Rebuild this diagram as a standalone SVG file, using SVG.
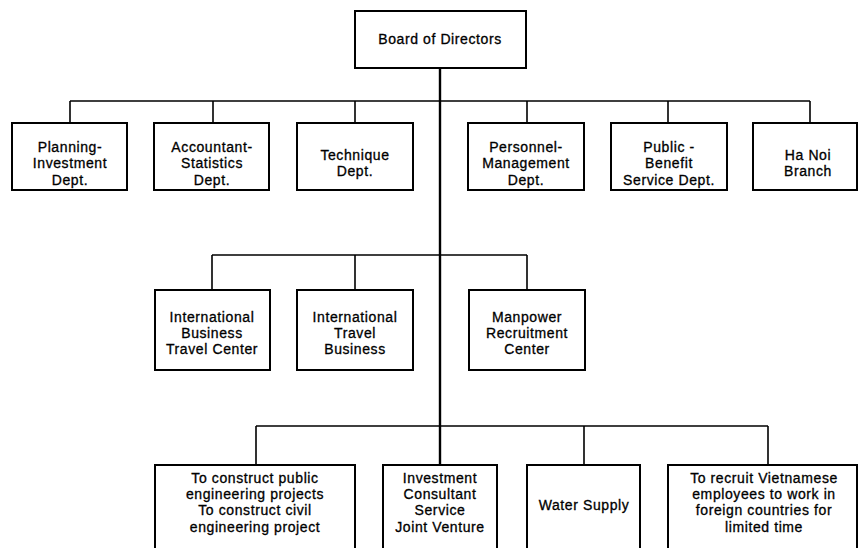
<svg xmlns="http://www.w3.org/2000/svg" width="859" height="548" viewBox="0 0 859 548">
<style>
.box{fill:#fff;stroke:#000;stroke-width:2}
.c{fill:none;stroke:#000;stroke-width:1.6}
.stem{fill:none;stroke:#000;stroke-width:2.4}
text{font-family:"Liberation Sans",Arial,sans-serif;font-size:14px;fill:#000;stroke:#000;stroke-width:0.3;text-anchor:middle;letter-spacing:0.6px}
</style>
<rect width="859" height="548" fill="#fff"/>
<g id="connectors">
<path class="stem" d="M440 68V465"/>
<path class="c" d="M70 101H810M70 101V123M213 101V123M355 101V123M527 101V123M668 101V123M810 101V123"/>
<path class="c" d="M212 255H527M212 255V290M355 255V290M527 255V290"/>
<path class="c" d="M256 426H768M256 426V465M584 426V465M768 426V465"/>
</g>
<g id="board"><rect class="box" x="355" y="11" width="171" height="57"/><text x="440" y="44">Board of Directors</text></g>
<g id="planning"><rect class="box" x="12" y="123" width="115" height="67"/><text x="70" y="152">Planning-</text><text x="70" y="168">Investment</text><text x="70" y="185">Dept.</text></g>
<g id="accountant"><rect class="box" x="154" y="123" width="115" height="67"/><text x="212" y="152">Accountant-</text><text x="212" y="168">Statistics</text><text x="212" y="185">Dept.</text></g>
<g id="technique"><rect class="box" x="297" y="123" width="116" height="67"/><text x="355" y="160">Technique</text><text x="355" y="176">Dept.</text></g>
<g id="personnel"><rect class="box" x="468" y="123" width="116" height="67"/><text x="526" y="152">Personnel-</text><text x="526" y="168">Management</text><text x="526" y="185">Dept.</text></g>
<g id="public"><rect class="box" x="611" y="123" width="116" height="67"/><text x="669" y="152">Public -</text><text x="669" y="168">Benefit</text><text x="669" y="185">Service Dept.</text></g>
<g id="hanoi"><rect class="box" x="753" y="123" width="104" height="67"/><text x="808" y="160">Ha Noi</text><text x="808" y="176">Branch</text></g>
<g id="ibtc"><rect class="box" x="155" y="290" width="115" height="80"/><text x="212" y="322">International</text><text x="212" y="338">Business</text><text x="212" y="354">Travel Center</text></g>
<g id="itb"><rect class="box" x="297" y="290" width="116" height="80"/><text x="355" y="322">International</text><text x="355" y="338">Travel</text><text x="355" y="354">Business</text></g>
<g id="manpower"><rect class="box" x="469" y="290" width="116" height="80"/><text x="527" y="322">Manpower</text><text x="527" y="338">Recruitment</text><text x="527" y="354">Center</text></g>
<g id="construct"><rect class="box" x="155" y="465" width="200" height="100"/><text x="255" y="483">To construct public</text><text x="255" y="499">engineering projects</text><text x="255" y="515">To construct civil</text><text x="255" y="532">engineering project</text></g>
<g id="investment"><rect class="box" x="383" y="465" width="114" height="100"/><text x="440" y="483">Investment</text><text x="440" y="499">Consultant</text><text x="440" y="515">Service</text><text x="440" y="532">Joint Venture</text></g>
<g id="water"><rect class="box" x="527" y="465" width="113" height="100"/><text x="584" y="510">Water Supply</text></g>
<g id="recruit"><rect class="box" x="668" y="465" width="189" height="100"/><text x="764" y="483">To recruit Vietnamese</text><text x="764" y="499">employees to work in</text><text x="764" y="515">foreign countries for</text><text x="764" y="532">limited time</text></g>
</svg>
